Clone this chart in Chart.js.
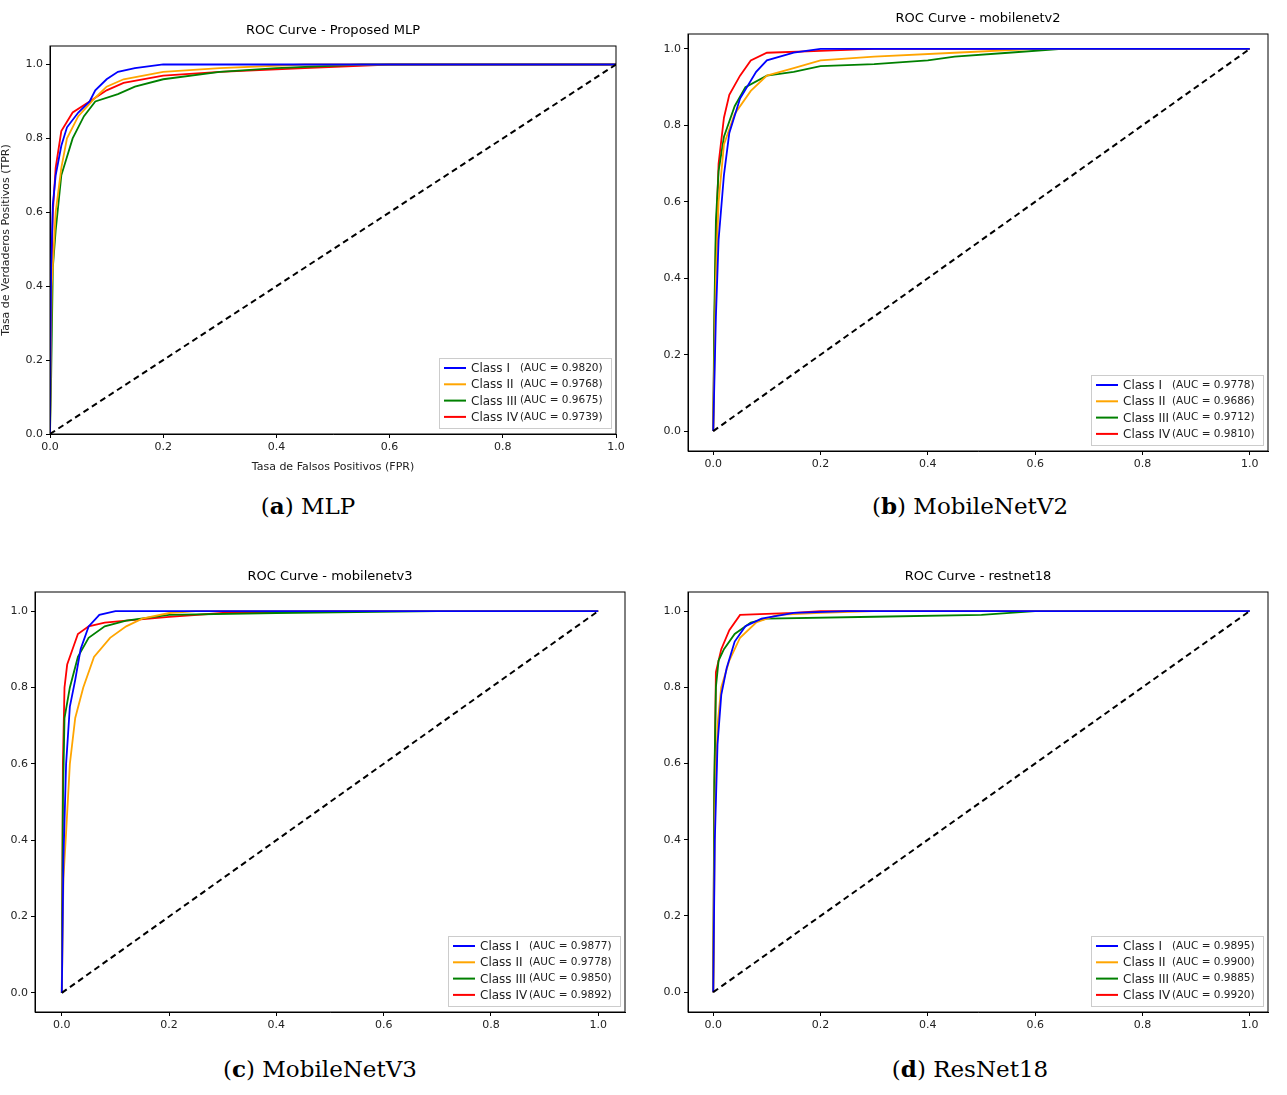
<!DOCTYPE html>
<html>
<head>
<meta charset="utf-8">
<script src="https://cdn.jsdelivr.net/npm/chart.js@4.4.0/dist/chart.umd.min.js"></script>
<style>
  body { margin: 0; background: #fff; width: 1287px; height: 1095px; position: relative; overflow: hidden; }
  .panel { position: absolute; }
  .cap { position: absolute; font-family: "DejaVu Serif", "Liberation Serif", serif; font-size: 23px; color: #000; text-align: center; width: 640px; }
</style>
</head>
<body>
<div class="panel" style="left:0;top:10px;width:630px;height:470px"><canvas id="c0"></canvas></div>
<div class="panel" style="left:640px;top:0;width:640px;height:480px"><canvas id="c1"></canvas></div>
<div class="panel" style="left:0;top:555px;width:640px;height:485px"><canvas id="c2"></canvas></div>
<div class="panel" style="left:640px;top:555px;width:640px;height:485px"><canvas id="c3"></canvas></div>
<div class="cap" style="left:-12px;top:492px">(<b>a</b>) MLP</div>
<div class="cap" style="left:650px;top:492px">(<b>b</b>) MobileNetV2</div>
<div class="cap" style="left:0;top:1055px">(<b>c</b>) MobileNetV3</div>
<div class="cap" style="left:650px;top:1055px">(<b>d</b>) ResNet18</div>
<script>
// class labels and colours
const classNames = ['Class I', 'Class II', 'Class III', 'Class IV'];
const classColors = ['#0000ff', '#ffa500', '#008000', '#ff0000'];
const tickValues = [0, 0.2, 0.4, 0.6, 0.8, 1.0];

// ROC points [fpr, tpr]
const mlpI = [[0,0],[0.002,0.45],[0.005,0.62],[0.01,0.7],[0.02,0.78],[0.03,0.83],[0.05,0.87],[0.07,0.9],[0.08,0.93],[0.1,0.96],[0.12,0.98],[0.15,0.99],[0.2,1.0],[1,1]];
const mlpII = [[0,0],[0.003,0.4],[0.01,0.6],[0.02,0.72],[0.03,0.8],[0.05,0.86],[0.08,0.91],[0.1,0.94],[0.13,0.96],[0.2,0.98],[0.3,0.99],[0.45,1.0],[1,1]];
const mlpIII = [[0,0],[0.002,0.15],[0.005,0.45],[0.01,0.55],[0.02,0.7],[0.04,0.8],[0.06,0.86],[0.08,0.9],[0.12,0.92],[0.15,0.94],[0.2,0.96],[0.3,0.98],[0.4,0.99],[0.55,1.0],[1,1]];
const mlpIV = [[0,0],[0.002,0.4],[0.005,0.6],[0.01,0.72],[0.02,0.82],[0.04,0.87],[0.07,0.9],[0.1,0.93],[0.13,0.95],[0.2,0.97],[0.3,0.98],[0.45,0.99],[0.6,1.0],[1,1]];

const mv2I = [[0,0],[0.005,0.3],[0.01,0.5],[0.02,0.67],[0.03,0.78],[0.05,0.87],[0.08,0.94],[0.1,0.97],[0.15,0.99],[0.2,1.0],[1,1]];
const mv2II = [[0,0],[0.005,0.4],[0.01,0.6],[0.02,0.75],[0.04,0.83],[0.07,0.89],[0.1,0.93],[0.15,0.95],[0.2,0.97],[0.3,0.98],[0.45,0.99],[0.6,1.0],[1,1]];
const mv2III = [[0,0],[0.002,0.3],[0.005,0.55],[0.01,0.68],[0.02,0.77],[0.04,0.85],[0.06,0.9],[0.1,0.93],[0.15,0.94],[0.2,0.955],[0.3,0.96],[0.4,0.97],[0.45,0.98],[0.55,0.99],[0.65,1.0],[1,1]];
const mv2IV = [[0,0],[0.002,0.25],[0.005,0.5],[0.01,0.7],[0.02,0.82],[0.03,0.88],[0.05,0.93],[0.07,0.97],[0.1,0.99],[0.2,0.995],[0.3,1.0],[1,1]];

const mv3I = [[0,0],[0.003,0.35],[0.008,0.6],[0.015,0.75],[0.025,0.82],[0.035,0.9],[0.05,0.96],[0.07,0.99],[0.1,1.0],[1,1]];
const mv3II = [[0,0],[0.003,0.3],[0.008,0.42],[0.015,0.6],[0.025,0.72],[0.04,0.8],[0.06,0.88],[0.09,0.93],[0.12,0.96],[0.15,0.98],[0.2,0.995],[0.25,1.0],[1,1]];
const mv3III = [[0,0],[0.002,0.5],[0.005,0.72],[0.015,0.8],[0.03,0.88],[0.05,0.93],[0.08,0.96],[0.12,0.975],[0.2,0.99],[0.4,0.995],[0.7,1.0],[1,1]];
const mv3IV = [[0,0],[0.002,0.6],[0.005,0.8],[0.01,0.86],[0.02,0.9],[0.03,0.94],[0.05,0.96],[0.08,0.97],[0.12,0.975],[0.2,0.985],[0.3,0.995],[0.5,1.0],[1,1]];

const rnI = [[0,0],[0.003,0.4],[0.008,0.65],[0.015,0.78],[0.025,0.85],[0.04,0.92],[0.06,0.96],[0.09,0.98],[0.15,0.995],[0.25,1.0],[1,1]];
const rnII = [[0,0],[0.003,0.45],[0.008,0.7],[0.015,0.8],[0.03,0.87],[0.05,0.93],[0.08,0.97],[0.12,0.99],[0.2,0.995],[0.3,1.0],[1,1]];
const rnIII = [[0,0],[0.002,0.55],[0.005,0.8],[0.01,0.87],[0.02,0.9],[0.04,0.94],[0.07,0.97],[0.1,0.98],[0.3,0.985],[0.5,0.99],[0.6,1.0],[1,1]];
const rnIV = [[0,0],[0.002,0.5],[0.005,0.84],[0.015,0.9],[0.03,0.95],[0.05,0.99],[0.15,0.995],[0.2,1.0],[1,1]];

const mlpAuc = ['0.9820', '0.9768', '0.9675', '0.9739'];
const mv2Auc = ['0.9778', '0.9686', '0.9712', '0.9810'];
const mv3Auc = ['0.9877', '0.9778', '0.9850', '0.9892'];
const rnAuc = ['0.9895', '0.9900', '0.9885', '0.9920'];

const panels = [
  { id: 'c0', title: 'ROC Curve - Proposed MLP', curves: [mlpI, mlpII, mlpIII, mlpIV], auc: mlpAuc,
    labels: true, xr: [0, 1], yr: [0, 1.05], yW: 50, xH: 40, top: 36, right: 14 },
  { id: 'c1', title: 'ROC Curve - mobilenetv2', curves: [mv2I, mv2II, mv2III, mv2IV], auc: mv2Auc,
    labels: false, xr: [-0.047, 1.034], yr: [-0.052, 1.039], yW: 48, xH: 29, top: 34, right: 12 },
  { id: 'c2', title: 'ROC Curve - mobilenetv3', curves: [mv3I, mv3II, mv3III, mv3IV], auc: mv3Auc,
    labels: false, xr: [-0.05, 1.05], yr: [-0.05, 1.05], yW: 35, xH: 28, top: 37, right: 15 },
  { id: 'c3', title: 'ROC Curve - restnet18', curves: [rnI, rnII, rnIII, rnIV], auc: rnAuc,
    labels: false, xr: [-0.047, 1.034], yr: [-0.052, 1.05], yW: 48, xH: 28, top: 37, right: 12 }
];

const FONT = 'DejaVu Sans';

// frame, title and in-plot legend
const decor = {
  id: 'decor',
  afterDraw(chart, args, o) {
    const { ctx, chartArea: a } = chart;
    ctx.save();
    ctx.strokeStyle = '#000'; ctx.lineWidth = 1;
    ctx.strokeRect(a.left, a.top, a.right - a.left, a.bottom - a.top);
    ctx.fillStyle = '#000';
    ctx.font = '13px "' + FONT + '"';
    ctx.textAlign = 'center'; ctx.textBaseline = 'bottom';
    ctx.fillText(o.title, (a.left + a.right) / 2, a.top - 9);
    // legend
    const w = 172, rowH = 16.3, h = 70;
    const bx = a.right - 5 - w, by = a.bottom - 6 - h;
    ctx.fillStyle = 'rgba(255,255,255,0.85)';
    ctx.fillRect(bx, by, w, h);
    ctx.strokeStyle = '#ccc';
    ctx.strokeRect(bx + 0.5, by + 0.5, w, h);
    ctx.textAlign = 'left'; ctx.textBaseline = 'middle';
    classNames.forEach((n, i) => {
      const y = by + 10 + i * rowH;
      ctx.strokeStyle = classColors[i]; ctx.lineWidth = 2;
      ctx.beginPath(); ctx.moveTo(bx + 5, y); ctx.lineTo(bx + 27, y); ctx.stroke();
      ctx.fillStyle = '#222';
      ctx.font = '12px "' + FONT + '"';
      ctx.fillText(n, bx + 32, y + 1);
      ctx.font = '10.5px "' + FONT + '"';
      ctx.fillText('(AUC = ' + o.auc[i] + ')', bx + 81, y);
    });
    ctx.restore();
  }
};

panels.forEach(p => {
  const datasets = [{
    data: [{ x: 0, y: 0 }, { x: 1, y: 1 }], borderColor: '#000', borderWidth: 2,
    borderDash: [6, 4], pointRadius: 0
  }];
  p.curves.forEach((c, i) => datasets.push({
    data: c.map(d => ({ x: d[0], y: d[1] })), borderColor: classColors[i],
    borderWidth: 1.8, pointRadius: 0, tension: 0
  }));
  const tickFont = { family: FONT, size: 11 };
  const axis = (range, size, fitKey, label) => ({
    type: 'linear', min: range[0], max: range[1],
    afterBuildTicks: s => { s.ticks = tickValues.map(v => ({ value: v })); },
    afterFit: s => { s[fitKey] = size; },
    grid: { drawOnChartArea: false, drawTicks: true, tickLength: 4, color: '#000' },
    border: { display: true, color: '#000' },
    ticks: { color: '#222', font: tickFont, padding: 3, callback: v => v.toFixed(1) },
    title: { display: !!label, text: label, color: '#222', font: { family: FONT, size: 11 }, padding: 0 }
  });
  new Chart(document.getElementById(p.id), {
    type: 'line',
    data: { datasets },
    plugins: [decor],
    options: {
      responsive: true, maintainAspectRatio: false, animation: false,
      layout: { padding: { top: p.top, right: p.right, left: 0, bottom: p.labels ? 6 : 0 } },
      plugins: { legend: { display: false }, tooltip: { enabled: false }, decor: { title: p.title, auc: p.auc } },
      scales: {
        x: axis(p.xr, p.xH, 'height', p.labels ? 'Tasa de Falsos Positivos (FPR)' : ''),
        y: axis(p.yr, p.yW, 'width', p.labels ? 'Tasa de Verdaderos Positivos (TPR)' : '')
      }
    }
  });
});
</script>
</body>
</html>
